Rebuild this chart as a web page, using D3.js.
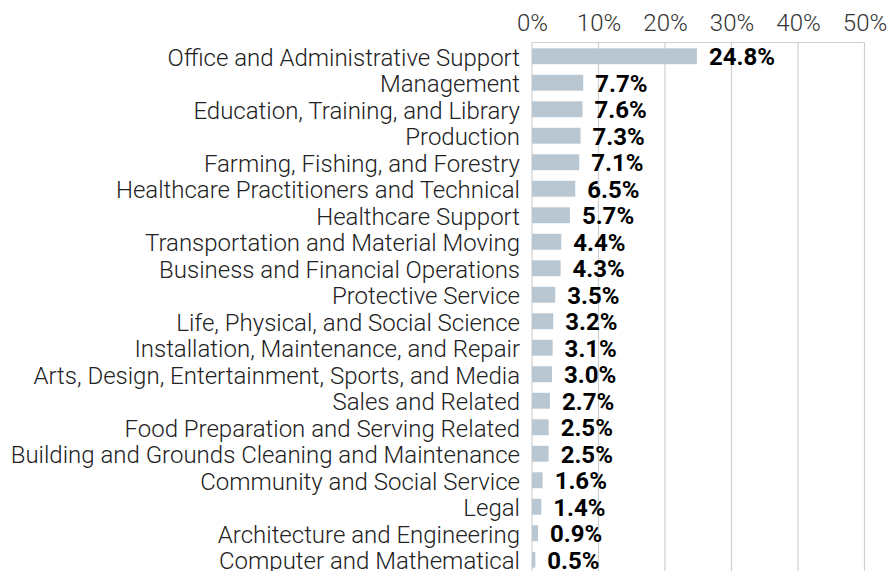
<!DOCTYPE html>
<html><head><meta charset="utf-8">
<script src="https://cdn.jsdelivr.net/npm/d3@7"></script>
<style>
html,body{margin:0;padding:0;background:#fff;overflow:hidden}
svg{display:block}
</style></head>
<body>
<svg id="chart" width="887" height="571"></svg>
<script>
const categories = [
  "Office and Administrative Support",
  "Management",
  "Education, Training, and Library",
  "Production",
  "Farming, Fishing, and Forestry",
  "Healthcare Practitioners and Technical",
  "Healthcare Support",
  "Transportation and Material Moving",
  "Business and Financial Operations",
  "Protective Service",
  "Life, Physical, and Social Science",
  "Installation, Maintenance, and Repair",
  "Arts, Design, Entertainment, Sports, and Media",
  "Sales and Related",
  "Food Preparation and Serving Related",
  "Building and Grounds Cleaning and Maintenance",
  "Community and Social Service",
  "Legal",
  "Architecture and Engineering",
  "Computer and Mathematical"
];
const values = [24.8, 7.7, 7.6, 7.3, 7.1, 6.5, 5.7, 4.4, 4.3, 3.5, 3.2, 3.1, 3.0, 2.7, 2.5, 2.5, 1.6, 1.4, 0.9, 0.5];
const tickValues = [0, 10, 20, 30, 40, 50];

const data = categories.map((c, i) => ({ cat: c, val: values[i] }));

const svg = d3.select("#chart");
const x = d3.scaleLinear().domain([0, 50]).range([532, 864.5]);
const y = d3.scaleBand().domain(categories).range([43, 573]).paddingInner(0.4).paddingOuter(0.2);

const gridColor = "#d0d0d0";

// gridlines
svg.append("g").selectAll("line").data(tickValues).join("line")
  .attr("x1", d => x(d)).attr("x2", d => x(d))
  .attr("y1", 42.5).attr("y2", 600)
  .attr("stroke", gridColor).attr("stroke-width", 1.2);
svg.append("line").attr("x1", x(0)).attr("x2", x(50)).attr("y1", 42.5).attr("y2", 42.5)
  .attr("stroke", gridColor).attr("stroke-width", 1.2);

// top axis labels
const xAxis = d3.axisTop(x).tickValues(tickValues).tickFormat(d => d + "%").tickSize(0).tickPadding(0);
const gx = svg.append("g").attr("transform", "translate(0,31)").call(xAxis);
gx.select(".domain").remove();
gx.selectAll("text").attr("font-family", "Roboto").attr("font-weight", 300)
  .attr("font-size", 24).attr("fill", "#333").attr("dy", 0);

// bars
svg.append("g").selectAll("rect").data(data).join("rect")
  .attr("x", x(0)).attr("y", d => y(d.cat))
  .attr("width", d => x(d.val) - x(0)).attr("height", y.bandwidth())
  .attr("fill", "#b9c7d2");

// category labels
const yAxis = d3.axisLeft(y).tickSize(0).tickPadding(12);
const gy = svg.append("g").attr("transform", `translate(${x(0)},0)`).call(yAxis);
gy.select(".domain").remove();
gy.selectAll("text").attr("font-family", "Roboto").attr("font-weight", 300)
  .attr("font-size", 24).attr("fill", "#222").attr("dy", "0.4em");

// value labels
svg.append("g").selectAll("text").data(data).join("text")
  .attr("x", d => x(d.val) + 12)
  .attr("y", d => y(d.cat) + y.bandwidth() / 2)
  .attr("dy", "0.37em")
  .attr("font-family", "Roboto").attr("font-weight", 700).attr("font-size", 24)
  .attr("fill", "#000")
  .text(d => d.val.toFixed(1) + "%");
</script>
</body></html>
